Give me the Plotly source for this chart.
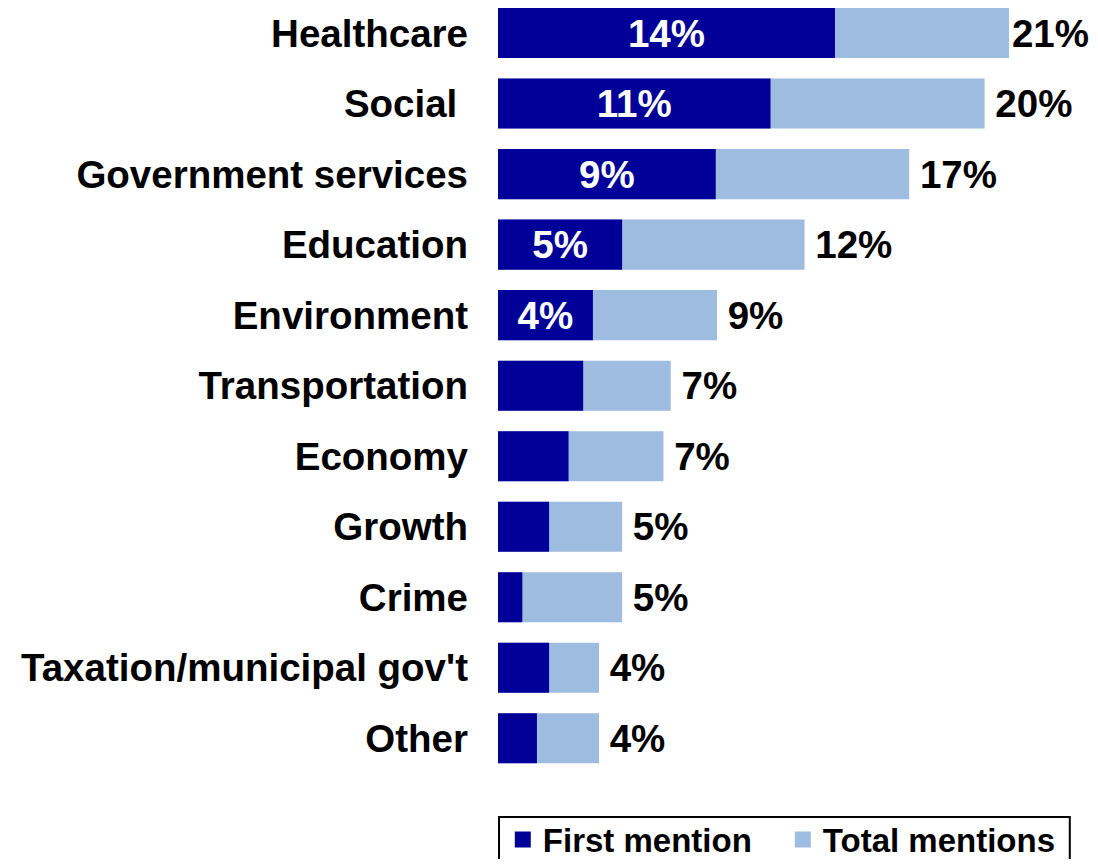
import plotly.graph_objects as go

categories = ["Healthcare", "Social\u00a0", "Government services", "Education", "Environment",
              "Transportation", "Economy", "Growth", "Crime", "Taxation/municipal gov't", "Other"]
first_mention = [13.85, 11.2, 8.95, 5.1, 3.9, 3.5, 2.9, 2.1, 1.0, 2.1, 1.6]
total_mentions = [21.0, 20.0, 16.9, 12.6, 9.0, 7.1, 6.8, 5.1, 5.1, 4.15, 4.15]
first_labels = ["14%", "11%", "9%", "5%", "4%", "", "", "", "", "", ""]
total_labels = ["21%", "20%", "17%", "12%", "9%", "7%", "7%", "5%", "5%", "4%", "4%"]
series_names = ["First mention", "Total mentions"]

DARK = "#000099"
LIGHT = "#9EBBE0"
FONT = "Liberation Sans, Arial, sans-serif"
FS = 38.5

# small gap before outside labels (the top one sits at the right edge, keep it tight)
outside_text = [t if i == 0 else "\u2009" + t for i, t in enumerate(total_labels)]

fig = go.Figure()
fig.add_trace(go.Bar(
    y=categories, x=total_mentions, orientation="h", name=series_names[1],
    marker=dict(color=LIGHT, line=dict(width=0)), width=0.71,
    text=outside_text, textposition="outside",
    textfont=dict(family=FONT, size=FS, color="black", weight="bold"),
    cliponaxis=False, showlegend=False,
))
fig.add_trace(go.Bar(
    y=categories, x=first_mention, orientation="h", name=series_names[0],
    marker=dict(color=DARK, line=dict(width=0)), width=0.71,
    text=first_labels, textposition="inside", insidetextanchor="middle",
    constraintext="none",
    textfont=dict(family=FONT, size=FS, color="white", weight="bold"),
    showlegend=False,
))
# legend entries with larger square swatches
for nm, col in zip(series_names, [DARK, LIGHT]):
    fig.add_trace(go.Scatter(
        x=[None], y=[None], mode="markers", name=nm,
        marker=dict(symbol="square", size=18, color=col),
        showlegend=True, hoverinfo="skip",
    ))

# legend frame
fig.add_shape(type="rect", xref="paper", yref="paper",
              x0=0.0017, x1=0.953, y0=-0.0548, y1=-0.3,
              line=dict(color="black", width=2), fillcolor="rgba(0,0,0,0)")

fig.update_layout(
    width=1090, height=851,
    margin=dict(l=490, r=0, t=0, b=84, autoexpand=False),
    barmode="overlay",
    plot_bgcolor="white", paper_bgcolor="white",
    font=dict(family=FONT, color="black"),
    hovermode=False,
    xaxis=dict(range=[0, 24.66], visible=False, fixedrange=True),
    yaxis=dict(
        categoryorder="array", categoryarray=categories,
        range=[10.52, -0.355], autorange=False,
        showgrid=False, zeroline=False, showline=False,
        ticks="", ticklabelstandoff=29, automargin=False,
        tickfont=dict(family=FONT, size=FS, color="black", weight="bold"),
    ),
    showlegend=True,
    legend=dict(
        orientation="h", x=0.008, xanchor="left", y=-0.0475, yanchor="top",
        borderwidth=0, bgcolor="rgba(0,0,0,0)",
        font=dict(family=FONT, size=33, color="black", weight="bold"),
        traceorder="normal", entrywidth=235, itemsizing="trace",
    ),
)

fig.write_html("out.html")
